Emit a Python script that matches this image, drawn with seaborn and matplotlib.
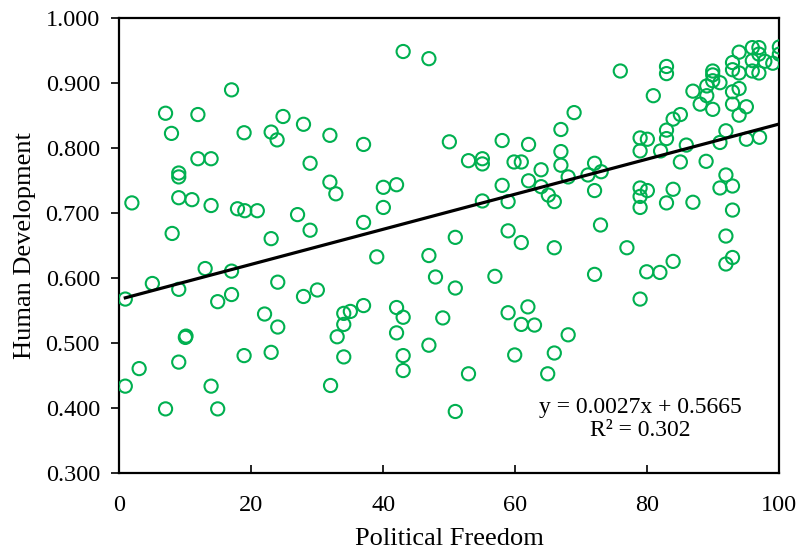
import numpy as np
import pandas as pd
import matplotlib
matplotlib.use("Agg")
import matplotlib.pyplot as plt
import seaborn as sns

# Political freedom (x) and human development (y)
freedom = [
    17.0, 7.0, 11.9, 24.8, 27.9, 7.9, 18.9, 23.0, 23.9, 31.9, 11.9, 13.9, 9.0, 9.0,
    28.9, 31.9, 32.8, 1.9, 9.0, 11.0, 13.9, 17.9, 19.0, 20.9, 27.0, 8.0, 28.9, 23.0,
    43.0, 46.9, 37.0, 50.0, 58.0, 62.0, 66.9, 52.9, 55.0, 55.0, 59.8, 60.9, 63.9, 66.9,
    66.9, 40.0, 42.0, 40.0, 37.0, 58.0, 62.0, 63.9, 65.0, 65.9, 55.0, 58.9, 58.9, 50.9,
    60.9, 65.9,
    75.9, 82.9, 82.9, 80.9, 68.9, 68.0, 71.0, 72.0, 73.0, 72.0, 72.9, 76.9, 78.9, 80.0,
    78.9, 82.0, 82.9, 82.9, 83.9, 85.0, 85.9, 85.0, 78.9, 80.0, 78.9, 78.9, 83.9, 82.9,
    86.9,
    88.9, 91.0, 91.9, 92.9, 92.9, 91.9, 92.9, 91.9, 91.0, 91.9, 95.0, 97.0,
    86.9, 88.0, 89.0, 89.0, 89.9, 89.9, 89.9, 91.0, 89.9, 92.9, 92.9, 92.9, 93.9, 92.9,
    95.0, 93.9, 93.9, 93.9, 95.9, 96.9, 95.9, 95.9, 96.9, 96.9, 97.8, 99.0, 100.0, 100.0,
    0.9, 5.0, 9.0, 13.0, 17.0, 17.0, 14.9, 24.0, 27.9, 30.0, 22.0, 24.0, 10.1, 10.0,
    18.9, 23.0, 9.0, 3.0, 0.9, 13.9, 7.0, 14.9, 32.0,
    34.0, 35.0, 34.0, 33.0, 34.0,
    39.0, 46.9, 47.9, 50.9, 56.9, 37.0, 42.0, 43.0, 42.0, 49.0, 46.9, 43.0, 43.0, 52.9,
    50.9, 58.9, 61.9, 60.9, 62.9, 59.9, 65.9, 64.9,
    72.0, 79.9, 81.9, 83.9, 78.9, 68.0,
]
development = [
    0.889, 0.853, 0.851, 0.848, 0.836, 0.822, 0.823, 0.824, 0.812, 0.819, 0.783, 0.783, 0.761, 0.755,
    0.776, 0.747, 0.729, 0.715, 0.723, 0.720, 0.711, 0.706, 0.703, 0.703, 0.697, 0.668, 0.673, 0.660,
    0.948, 0.937, 0.805, 0.809, 0.811, 0.805, 0.828, 0.780, 0.783, 0.775, 0.778, 0.778, 0.766, 0.794,
    0.773, 0.739, 0.743, 0.708, 0.685, 0.742, 0.749, 0.740, 0.727, 0.717, 0.718, 0.717, 0.672, 0.662,
    0.654, 0.646,
    0.918, 0.925, 0.914, 0.880, 0.854, 0.755, 0.758, 0.776, 0.763, 0.734, 0.681, 0.646, 0.815, 0.813,
    0.795, 0.795, 0.827, 0.814, 0.844, 0.851, 0.804, 0.778, 0.738, 0.734, 0.725, 0.708, 0.736, 0.715,
    0.716,
    0.779, 0.738, 0.758, 0.741, 0.704, 0.664, 0.631, 0.621, 0.808, 0.826, 0.813, 0.816,
    0.887, 0.867, 0.880, 0.895, 0.918, 0.912, 0.903, 0.900, 0.859, 0.931, 0.920, 0.886, 0.891, 0.867,
    0.863, 0.850, 0.947, 0.915, 0.954, 0.954, 0.934, 0.918, 0.944, 0.915, 0.933, 0.930, 0.955, 0.944,
    0.567, 0.591, 0.582, 0.614, 0.610, 0.574, 0.563, 0.593, 0.571, 0.581, 0.544, 0.524, 0.510, 0.508,
    0.480, 0.485, 0.470, 0.460, 0.433, 0.433, 0.398, 0.398, 0.434,
    0.545, 0.548, 0.528, 0.509, 0.478,
    0.632, 0.634, 0.601, 0.584, 0.602, 0.557, 0.554, 0.539, 0.515, 0.538, 0.496, 0.480, 0.457, 0.452,
    0.394, 0.546, 0.555, 0.528, 0.527, 0.481, 0.484, 0.452,
    0.605, 0.609, 0.608, 0.625, 0.567, 0.512,
]

# trendline as printed on the chart
slope = 0.0027
intercept = 0.5665
r_squared = 0.302

df = pd.DataFrame({"freedom": freedom, "development": development})

plt.rcParams["font.family"] = ["Liberation Serif", "DejaVu Serif"]

fig = plt.figure(figsize=(8.01, 5.54), dpi=100)
ax = fig.add_axes([0.149, 0.147, 0.824, 0.821])

sns.scatterplot(data=df, x="freedom", y="development", ax=ax, marker="o", s=90,
                facecolors="none", edgecolor="#00B050", linewidth=1.5, zorder=3)

# trendline across the data range
xs = np.array([min(freedom), max(freedom)])
trend = pd.DataFrame({"x": xs, "y": slope * xs + intercept})
sns.lineplot(data=trend, x="x", y="y", ax=ax, color="black", linewidth=2.3, zorder=4)

ax.text(78.9, 0.382, f"y = {slope}x + {intercept}\nR² = {r_squared}",
        ha="center", va="center", fontsize=17, multialignment="center", linespacing=1.1)

ax.set_xlim(0, 100)
ax.set_ylim(0.3, 1.0)
ax.set_xticks([0, 20, 40, 60, 80, 100])
ax.set_yticks(np.arange(0.3, 1.0001, 0.1))
ax.set_yticklabels([f"{v:.3f}" for v in np.arange(0.3, 1.0001, 0.1)])
ax.tick_params(axis="y", direction="out", length=6, width=1.2, labelsize=17.5, pad=8)
ax.tick_params(axis="x", direction="in", length=6, width=1.2, labelsize=17.5, pad=16)

for sp in ax.spines.values():
    sp.set_linewidth(1.6)
    sp.set_color("black")

ax.set_xlabel("Political Freedom", fontsize=19, labelpad=9)
ax.set_ylabel("Human Development", fontsize=19, labelpad=7)

fig.savefig("out.png", dpi=100)
